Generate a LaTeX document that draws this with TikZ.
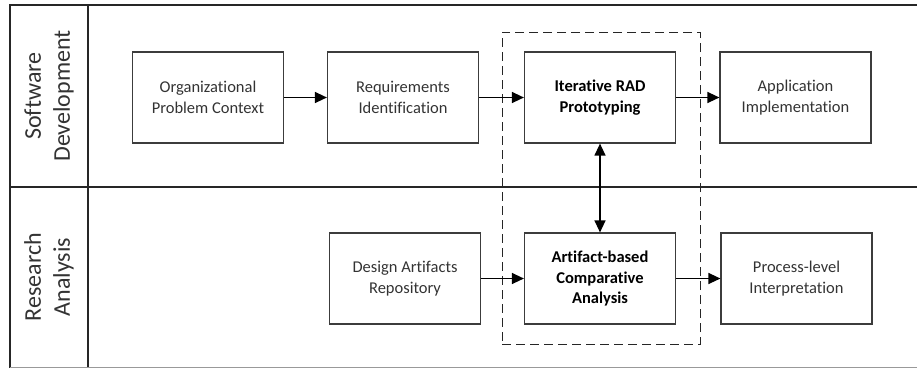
\documentclass[tikz,border=0pt]{standalone}
\usepackage{fontspec}
\setmainfont[Ligatures=NoCommon]{Carlito}
\usetikzlibrary{arrows.meta}
\definecolor{boxline}{HTML}{3C3C3C}
\definecolor{txt}{HTML}{333333}
\begin{document}
\begin{tikzpicture}[x=1pt,y=-1pt,
  stage/.style={draw=boxline,line width=1.2pt,minimum width=151pt,minimum height=91pt,
    align=center,font=\fontsize{16.5}{20.5}\selectfont,text=txt,inner sep=2pt},
  keystage/.style={stage,font=\fontsize{16.5}{20.5}\selectfont\bfseries,text=black},
  flow/.style={line width=1.3pt,-{Triangle[length=12pt,width=11pt]}},
  lanetitle/.style={rotate=90,align=center,font=\fontsize{24}{29}\selectfont,text=txt},
  frameline/.style={line width=1.8pt,draw=black!85}]
\useasboundingbox (0,0) rectangle (917,368);
% swimlane frame
\draw[frameline] (917,5) -- (10,5) -- (10,368);
\draw[frameline] (88,5) -- (88,368);
\draw[frameline] (10,187) -- (917,187);
\draw[line width=1pt,draw=black!40] (10,367) -- (917,367);
% lane titles
\node[lanetitle] (swd) at (49,96) {Software\\Development};
\node[lanetitle] (res) at (49,277) {Research\\Analysis};
% highlighted core activities
\node[draw=black!85,dashed,dash pattern=on 9pt off 5pt,line width=1pt,
  minimum width=198pt,minimum height=312pt] (core) at (601,188) {};
% upper lane
\node[stage] (org) at (208,97.5) {Organizational\\Problem Context};
\node[stage] (req) at (403,97.5) {Requirements\\Identification};
\node[keystage] (rad) at (600,97.5) {Iterative RAD\\Prototyping};
\node[stage] (app) at (795.5,97.5) {Application\\Implementation};
% lower lane
\node[stage] (des) at (405,278.5) {Design Artifacts\\Repository};
\node[keystage] (art) at (600,278.5) {Artifact-based\\Comparative\\Analysis};
\node[stage] (pro) at (796.5,278.5) {Process-level\\Interpretation};
% connectors
\draw[flow] (org) -- (req);
\draw[flow] (req) -- (rad);
\draw[flow] (rad) -- (app);
\draw[flow] (des) -- (art);
\draw[flow] (art) -- (art.east -| pro.west);
\draw[line width=1.3pt,{Triangle[length=12pt,width=11pt]}-{Triangle[length=12pt,width=11pt]}] (rad) -- (art);
\end{tikzpicture}
\end{document}
